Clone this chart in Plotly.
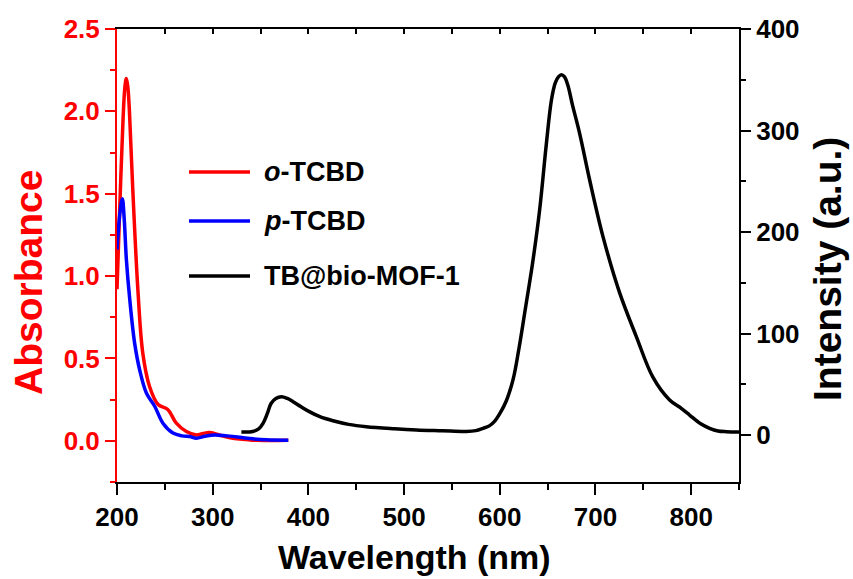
import plotly.graph_objects as go

# Absorption spectra (left axis)
wl_o = [200, 202.8, 206.3, 208.3, 209.8, 211.3, 213, 216.7, 222, 227, 234, 243, 253, 262, 272.5, 283, 290, 297, 310, 321, 335, 346, 360, 379]
abs_o = [0.92, 1.40, 1.95, 2.15, 2.20, 2.15, 2.0, 1.50, 0.90, 0.53, 0.33, 0.22, 0.19, 0.107, 0.056, 0.036, 0.045, 0.05, 0.03, 0.016, 0.008, 0.003, 0.002, 0.003]

wl_p = [200, 203, 205.6, 207.5, 209.8, 213.3, 218.5, 223.7, 230.7, 239.4, 248, 258.5, 268, 276, 283, 292, 302, 315, 328, 342, 356, 379]
abs_p = [1.16, 1.38, 1.47, 1.35, 1.10, 0.86, 0.59, 0.43, 0.29, 0.21, 0.107, 0.047, 0.03, 0.026, 0.016, 0.028, 0.036, 0.03, 0.022, 0.012, 0.006, 0.004]

# Emission spectrum (right axis)
wl_em = [330, 342, 348, 352.6, 357, 361, 366, 371.8, 378, 384, 392, 401, 412, 425.7, 442, 460.6, 490, 513, 540, 565,
         575, 582.5, 589, 595, 600, 607, 614, 620, 626, 634.7, 641.7, 648.7, 654, 658, 661.5, 664.4, 667.5, 671, 676,
         683.5, 694, 708, 725.3, 742.7, 760, 777.5, 790, 798.4, 810, 819.3, 828, 836.8, 850]
int_em = [3, 3.5, 6, 11.5, 21, 31, 36, 37.7, 36, 32.8, 28, 23, 18, 14, 10.5, 8.2, 6.2, 5, 4.2, 3.5,
          4.3, 6.6, 9, 14, 21, 34, 55, 85, 120, 172, 222, 287, 330, 347, 353, 355, 353, 345, 325,
          297, 251, 195, 140, 97, 57, 34.5, 26, 19.7, 11, 6.6, 4, 3.3, 3]

series_names = ["<i>o</i>-TCBD", "<i>p</i>-TCBD", "TB@bio-MOF-1"]
series_colors = ["#ff0000", "#0000ff", "#000000"]

FONT = "Liberation Sans, Arial, sans-serif"
W, H = 853, 579
L, R, T, B = 117, 739, 29, 482


def px(x):
    return (x - L) / (R - L)


def py(y):
    return (B - y) / (B - T)


fig = go.Figure()
fig.add_trace(go.Scatter(x=wl_o, y=abs_o, mode="lines", line=dict(color=series_colors[0], width=3.5, shape="spline", smoothing=1.0),
                         yaxis="y", showlegend=False))
fig.add_trace(go.Scatter(x=wl_p, y=abs_p, mode="lines", line=dict(color=series_colors[1], width=3.5, shape="spline", smoothing=1.0),
                         yaxis="y", showlegend=False))
fig.add_trace(go.Scatter(x=wl_em, y=int_em, mode="lines", line=dict(color=series_colors[2], width=3.5, shape="spline", smoothing=1.0),
                         yaxis="y2", showlegend=False))

tickfont_black = dict(family=FONT, size=26, color="black", weight="bold")
tickfont_red = dict(family=FONT, size=26, color="#ff0000", weight="bold")

fig.update_layout(
    width=W, height=H,
    margin=dict(l=L, r=W - R, t=T, b=H - B),
    paper_bgcolor="white", plot_bgcolor="white",
    xaxis=dict(range=[200, 850], tickmode="linear", tick0=200, dtick=100,
               ticks="outside", ticklen=11, tickwidth=2, tickcolor="black",
               minor=dict(ticks="outside", ticklen=6, tickwidth=2, dtick=50, tickcolor="black"),
               showline=True, linecolor="black", linewidth=2, showgrid=False, zeroline=False,
               tickfont=tickfont_black),
    xaxis2=dict(range=[200, 850], overlaying="x", side="top", tickmode="linear", tick0=200, dtick=50,
                ticks="inside", ticklen=5, tickwidth=2, tickcolor="black", showticklabels=False,
                showline=True, linecolor="black", linewidth=2, showgrid=False, zeroline=False),
    yaxis=dict(range=[-0.25, 2.5], tickmode="linear", tick0=0, dtick=0.5, tickformat=".1f",
               ticks="outside", ticklen=10, tickwidth=2, tickcolor="#ff0000",
               minor=dict(ticks="outside", ticklen=5, tickwidth=2, dtick=0.25, tick0=0, tickcolor="#ff0000"),
               showline=True, linecolor="#ff0000", linewidth=2, showgrid=False, zeroline=False,
               tickfont=tickfont_red),
    yaxis2=dict(range=[-46.3, 400], overlaying="y", side="right", tickmode="linear", tick0=0, dtick=100,
                ticks="outside", ticklen=10, tickwidth=2, tickcolor="black",
                minor=dict(ticks="outside", ticklen=5, tickwidth=2, dtick=50, tick0=0, tickcolor="black"),
                showline=True, linecolor="black", linewidth=2, showgrid=False, zeroline=False,
                tickfont=tickfont_black),
)

# empty trace so the top axis is drawn
fig.add_trace(go.Scatter(x=[200], y=[None], xaxis="x2", yaxis="y", showlegend=False, hoverinfo="skip"))

annotations = [
    dict(text="Absorbance", x=px(28), y=py(282), xref="paper", yref="paper", textangle=-90, showarrow=False,
         font=dict(family=FONT, size=39, color="#ff0000", weight="bold"), xanchor="center", yanchor="middle"),
    dict(text="Intensity (a.u.)", x=px(827), y=py(269), xref="paper", yref="paper", textangle=-90, showarrow=False,
         font=dict(family=FONT, size=39, color="black", weight="bold"), xanchor="center", yanchor="middle"),
    dict(text="Wavelength (nm)", x=px(414), y=py(557), xref="paper", yref="paper", showarrow=False,
         font=dict(family=FONT, size=34, color="black", weight="bold"), xanchor="center", yanchor="middle"),
]

# legend entries
legend_y = [172, 221, 276]
shapes = []
for name, color, ly in zip(series_names, series_colors, legend_y):
    shapes.append(dict(type="line", xref="paper", yref="paper", x0=px(189), x1=px(250), y0=py(ly), y1=py(ly),
                       line=dict(color=color, width=3.5)))
    annotations.append(dict(text=name, x=px(262), y=py(ly), xref="paper", yref="paper", showarrow=False,
                            xanchor="left", yanchor="middle",
                            font=dict(family=FONT, size=27, color="black", weight="bold")))

fig.update_layout(annotations=annotations, shapes=shapes)

fig.write_html("out.html")
